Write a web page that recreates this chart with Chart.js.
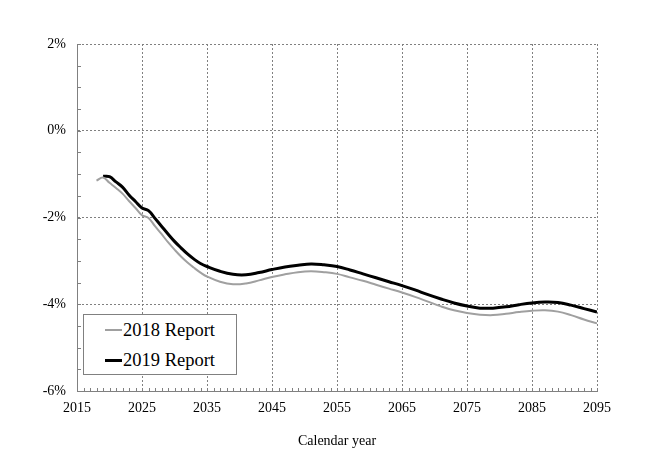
<!DOCTYPE html>
<html>
<head>
<meta charset="utf-8">
<script src="https://cdn.jsdelivr.net/npm/chart.js@4/dist/chart.umd.min.js"></script>
<style>
  html, body { margin: 0; padding: 0; background: #fff; }
  #wrap { position: relative; width: 648px; height: 468px; }
  #legend { position: absolute; left: 83px; top: 314px; width: 152px; height: 59px;
            border: 1px solid #808080; background: #fff; font-family: "Liberation Serif", "Times New Roman", serif; }
  .sw { position: absolute; left: 21px; width: 17px; }
  .lt { position: absolute; left: 39px; font-size: 18.5px; line-height: 18px; color: #000; white-space: nowrap; }
</style>
</head>
<body>
<div id="wrap">
  <canvas id="c" width="648" height="468"></canvas>
  <div id="legend">
    <div class="sw" style="top:14px;height:2px;background:#a0a0a0"></div>
    <div class="lt" style="top:6px">2018 Report</div>
    <div class="sw" style="top:44px;height:3px;background:#000"></div>
    <div class="lt" style="top:36px">2019 Report</div>
  </div>
</div>
<script>
const years2018 = [2018,2019,2020,2021,2022,2023,2024,2025,2026,2027,2028,2029,2030,2031,2032,2033,2034,2035,2037,2039,2041,2043,2045,2047,2049,2051,2053,2055,2057,2059,2061,2063,2065,2067,2069,2071,2073,2075,2077,2079,2081,2083,2085,2087,2089,2091,2093,2095];
const values2018 = [-1.15,-1.08,-1.20,-1.32,-1.45,-1.62,-1.78,-1.95,-2.01,-2.20,-2.38,-2.57,-2.74,-2.90,-3.04,-3.16,-3.27,-3.36,-3.48,-3.54,-3.52,-3.45,-3.37,-3.31,-3.26,-3.24,-3.26,-3.30,-3.38,-3.46,-3.55,-3.64,-3.73,-3.83,-3.94,-4.05,-4.14,-4.20,-4.24,-4.25,-4.22,-4.18,-4.15,-4.14,-4.17,-4.25,-4.35,-4.44];
const years2019 = [2019,2020,2021,2022,2023,2024,2025,2026,2027,2028,2029,2030,2031,2032,2033,2034,2035,2037,2039,2041,2043,2045,2047,2049,2051,2053,2055,2057,2059,2061,2063,2065,2067,2069,2071,2073,2075,2077,2079,2081,2083,2085,2087,2089,2091,2093,2095];
const values2019 = [-1.05,-1.06,-1.18,-1.30,-1.48,-1.63,-1.78,-1.84,-2.02,-2.20,-2.38,-2.55,-2.70,-2.84,-2.96,-3.06,-3.13,-3.24,-3.31,-3.32,-3.27,-3.20,-3.14,-3.10,-3.07,-3.09,-3.13,-3.21,-3.30,-3.39,-3.48,-3.57,-3.67,-3.78,-3.88,-3.97,-4.04,-4.09,-4.09,-4.06,-4.01,-3.97,-3.95,-3.96,-4.02,-4.10,-4.18];
const seriesLabels = ['2018 Report', '2019 Report'];
const xTitle = 'Calendar year';

const toXY = (xs, ys) => xs.map((x, i) => ({x: x, y: ys[i]}));
const FONT = "'Liberation Serif', 'Times New Roman', serif";

const minorTicks = {
  id: 'minorTicks',
  afterDraw(chart) {
    const {ctx, chartArea: a, scales: {x, y}} = chart;
    ctx.save();
    ctx.strokeStyle = '#808080';
    ctx.lineWidth = 1;
    ctx.beginPath();
    for (let v = -6; v <= 2.0001; v += 0.5) {
      const py = Math.round(y.getPixelForValue(v)) + 0.5;
      ctx.moveTo(a.left, py); ctx.lineTo(a.left + 4, py);
    }
    for (let yr = 2015; yr <= 2095; yr += 1) {
      const px = Math.round(x.getPixelForValue(yr)) + 0.5;
      ctx.moveTo(px, a.bottom); ctx.lineTo(px, a.bottom - 3);
    }
    ctx.stroke();
    ctx.restore();
  }
};

new Chart(document.getElementById('c'), {
  type: 'line',
  data: {
    datasets: [
      { label: seriesLabels[0], data: toXY(years2018, values2018), borderColor: '#a0a0a0', borderWidth: 2, pointRadius: 0, tension: 0.4, fill: false },
      { label: seriesLabels[1], data: toXY(years2019, values2019), borderColor: '#000000', borderWidth: 3, pointRadius: 0, tension: 0.4, fill: false }
    ]
  },
  options: {
    responsive: false,
    animation: false,
    layout: { padding: { top: 44, right: 51, left: 0, bottom: 0 } },
    plugins: { legend: { display: false }, tooltip: { enabled: false } },
    scales: {
      x: {
        type: 'linear', min: 2015, max: 2095,
        afterFit: s => { s.height = 77; },
        ticks: { stepSize: 10, padding: 9, color: '#000', font: { family: FONT, size: 14 }, callback: v => String(v), maxRotation: 0 },
        grid: { color: '#808080', lineWidth: 1, tickLength: 0 },
        border: { color: '#808080', width: 1, dash: [2, 2] },
        title: { display: true, text: xTitle, color: '#000', font: { family: FONT, size: 14 }, padding: { top: 0, bottom: 18 } }
      },
      y: {
        min: -6, max: 2,
        afterFit: s => { s.width = 77; },
        ticks: { stepSize: 2, padding: 11, color: '#000', font: { family: FONT, size: 14 }, callback: v => v + '%' },
        grid: { color: '#808080', lineWidth: 1, tickLength: 0 },
        border: { color: '#808080', width: 1, dash: [2, 2] }
      }
    }
  },
  plugins: [minorTicks]
});
</script>
</body>
</html>
